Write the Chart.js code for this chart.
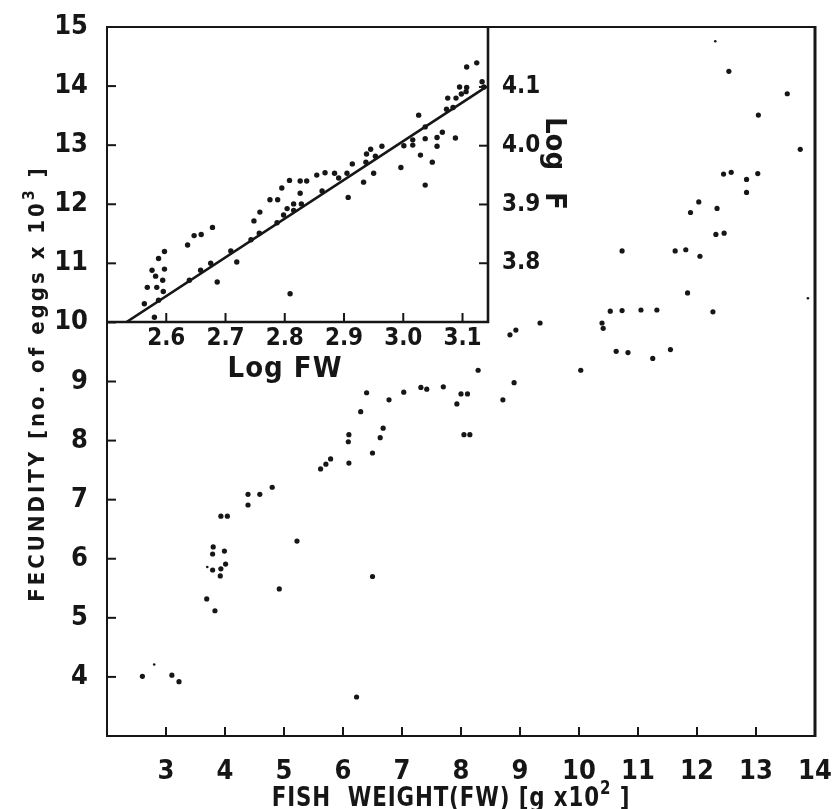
<!DOCTYPE html>
<html>
<head>
<meta charset="utf-8">
<script src="https://cdn.jsdelivr.net/npm/chart.js@4.4.0/dist/chart.umd.min.js"></script>
<style>
  html, body { margin: 0; padding: 0; background: #fff; }
  #wrap { position: relative; width: 840px; height: 809px; }
  #wrap canvas { position: absolute; left: 0; top: 0; }
</style>
</head>
<body>
<div id="wrap">
  <canvas id="mainChart" width="840" height="809"></canvas>
  <canvas id="insetChart" width="840" height="809"></canvas>
</div>
<script>
// Fecundity (x 10^3 eggs) against fish weight (x 10^2 g)
const fishWeight = [12.54, 13.53, 13.04, 13.75, 12.45, 12.58, 12.84, 13.03, 12.84, 12.03,
  11.89, 12.34, 12.32, 12.46, 10.73, 11.63, 11.81, 12.05, 11.84, 10.53,
  10.73, 11.05, 11.32, 12.27, 10.39, 10.41, 9.34, 8.83, 8.93, 10.63,
  10.83, 11.25, 11.55, 8.29, 10.03, 8.90, 8.71, 6.78, 7.03, 7.32,
  7.42, 7.70, 7.93, 8.00, 8.11, 8.05, 8.15, 6.68, 6.63, 6.50,
  6.40, 6.30, 6.10, 6.09, 6.10, 5.79, 5.71, 5.62, 4.80, 4.39,
  4.59, 4.39, 3.93, 4.04, 5.22, 3.80, 3.79, 3.99, 3.79, 3.93,
  4.01, 3.92, 6.50, 4.92, 3.69, 3.83, 2.60, 3.10, 3.22, 6.23];
const fecundity = [14.25, 13.87, 13.51, 12.93, 12.51, 12.54, 12.42, 12.52, 12.20, 12.04,
  11.86, 11.93, 11.49, 11.51, 11.21, 11.21, 11.23, 11.12, 10.50, 10.19,
  10.20, 10.21, 10.21, 10.18, 9.99, 9.90, 9.99, 9.79, 9.87, 9.51,
  9.49, 9.39, 9.54, 9.19, 9.19, 8.98, 8.69, 8.69, 8.82, 8.90,
  8.87, 8.91, 8.62, 8.79, 8.79, 8.10, 8.10, 8.21, 8.05, 7.79,
  8.81, 8.49, 8.10, 7.98, 7.62, 7.69, 7.60, 7.52, 7.21, 7.09,
  7.09, 6.91, 6.72, 6.72, 6.30, 6.20, 6.08, 6.13, 5.81, 5.83,
  5.91, 5.71, 5.70, 5.49, 5.32, 5.12, 4.01, 4.03, 3.92, 3.66];
// faint specks
const faintWeight = [12.31, 13.88, 3.70, 2.80];
const faintFecundity = [14.76, 10.41, 5.86, 4.21];

const weightTicks = [2, 3, 4, 5, 6, 7, 8, 9, 10, 11, 12, 13, 14];
const fecundityTicks = [3, 4, 5, 6, 7, 8, 9, 10, 11, 12, 13, 14, 15];

// Inset: log F against log FW
const logFW = [2.563, 2.580, 2.568, 2.584, 2.595, 2.576, 2.582, 2.594, 2.597, 2.587,
  2.597, 2.587, 2.636, 2.647, 2.659, 2.678, 2.686, 2.719, 2.639, 2.658,
  2.675, 2.709, 2.743, 2.757, 2.748, 2.758, 2.775, 2.788, 2.804, 2.798,
  2.787, 2.809, 2.815, 2.815, 2.795, 2.808, 2.826, 2.837, 2.826, 2.828,
  2.854, 2.868, 2.884, 2.891, 2.905, 2.907, 2.863, 2.914, 2.933, 2.950,
  2.938, 2.945, 2.964, 2.937, 2.953, 2.996, 3.001, 3.016, 3.016, 3.026,
  3.037, 3.037, 3.029, 3.049, 3.037, 3.057, 3.057, 3.066, 3.088, 3.073,
  3.084, 3.075, 3.089, 3.098, 3.106, 3.095, 3.107, 3.124, 3.107, 3.133, 3.136];
const logF = [3.731, 3.708, 3.759, 3.759, 3.752, 3.788, 3.778, 3.771, 3.790, 3.808,
  3.820, 3.737, 3.831, 3.847, 3.849, 3.861, 3.768, 3.802, 3.771, 3.788,
  3.800, 3.821, 3.840, 3.851, 3.872, 3.887, 3.908, 3.908, 3.893, 3.882,
  3.869, 3.748, 3.901, 3.890, 3.928, 3.941, 3.940, 3.940, 3.919, 3.901,
  3.950, 3.954, 3.953, 3.945, 3.953, 3.912, 3.923, 3.969, 3.938, 3.953,
  3.986, 3.994, 3.999, 3.972, 3.982, 3.963, 4.000, 4.001, 4.010, 4.052,
  4.012, 4.032, 3.984, 3.972, 3.933, 4.014, 3.999, 4.023, 4.013, 4.062,
  4.065, 4.081, 4.081, 4.088, 4.092, 4.100, 4.099, 4.141, 4.134, 4.109, 4.100];
// fitted regression line end points
const fitLogFW = [2.533, 3.140];
const fitLogF = [3.700, 4.100];

const logFWTicks = [2.6, 2.7, 2.8, 2.9, 3.0, 3.1];
const logFTicks = [3.8, 3.9, 4.0, 4.1];

const INK = '#161616';
const FAMILY = "'Liberation Sans Narrow', 'DejaVu Sans Condensed', sans-serif";

const toPoints = (xs, ys) => xs.map((x, i) => ({ x: x, y: ys[i] }));
const fixedTicks = list => scale => { scale.ticks = list.map(v => ({ value: v })); };
// pin the axis box to a set size and drop the label overhang margins
const pinBox = (prop, size) => s => {
  s[prop] = size;
  s.paddingLeft = s.paddingRight = s.paddingTop = s.paddingBottom = 0;
};

// draws text made of plain and superscript runs, centred on (0,0) of the current transform
function drawRuns(ctx, runs, size, spacing) {
  const supSize = Math.round(size * 0.72);
  const widths = runs.map(r => {
    ctx.font = `bold ${r.sup ? supSize : size}px ${FAMILY}`;
    ctx.letterSpacing = spacing + 'px';
    return ctx.measureText(r.t).width;
  });
  let x = -widths.reduce((a, b) => a + b, 0) / 2;
  runs.forEach((r, i) => {
    ctx.font = `bold ${r.sup ? supSize : size}px ${FAMILY}`;
    ctx.letterSpacing = spacing + 'px';
    ctx.fillText(r.t, x, r.sup ? -size * 0.45 : 0);
    x += widths[i];
  });
}

// inward tick marks plus the frame sides
function frameTicks(sides, tickLen, skipX) {
  return {
    id: 'frameTicks',
    afterDatasetsDraw(chart) {
      const { ctx, chartArea: a, scales } = chart;
      ctx.save();
      ctx.strokeStyle = INK;
      ctx.lineWidth = 2;
      scales.x.ticks.forEach(t => {
        if (skipX.includes(t.value)) return;
        const px = scales.x.getPixelForValue(t.value);
        ctx.beginPath(); ctx.moveTo(px, a.bottom); ctx.lineTo(px, a.bottom - tickLen); ctx.stroke();
      });
      const onRight = scales.y.position === 'right';
      scales.y.ticks.forEach(t => {
        const py = scales.y.getPixelForValue(t.value);
        const x0 = onRight ? a.right : a.left;
        ctx.beginPath(); ctx.moveTo(x0, py); ctx.lineTo(x0 + (onRight ? -tickLen : tickLen), py); ctx.stroke();
      });
      sides.forEach(s => {
        ctx.lineWidth = s.w;
        ctx.beginPath();
        if (s.side === 'left') { ctx.moveTo(a.left, a.top - 1); ctx.lineTo(a.left, a.bottom + 1); }
        if (s.side === 'right') { ctx.moveTo(a.right, a.top - 1); ctx.lineTo(a.right, a.bottom + 1); }
        if (s.side === 'top') { ctx.moveTo(a.left - 1, a.top); ctx.lineTo(a.right + 1, a.top); }
        if (s.side === 'bottom') { ctx.moveTo(a.left - 1, a.bottom); ctx.lineTo(a.right + 1, a.bottom); }
        ctx.stroke();
      });
      ctx.restore();
    }
  };
}

const mainTitles = {
  id: 'mainTitles',
  afterDraw(chart) {
    const { ctx, chartArea: a } = chart;
    ctx.save();
    ctx.fillStyle = INK;
    ctx.textBaseline = 'alphabetic';
    ctx.textAlign = 'left';
    ctx.translate((a.left + a.right) / 2 - 10, a.bottom + 70);
    ctx.scale(0.88, 1);
    drawRuns(ctx, [{ t: 'FISH  WEIGHT(FW) [g x10' }, { t: '2', sup: true }, { t: ' ]' }], 27, 1);
    ctx.restore();

    ctx.save();
    ctx.fillStyle = INK;
    ctx.textBaseline = 'alphabetic';
    ctx.textAlign = 'left';
    ctx.translate(a.left - 63, (a.top + a.bottom) / 2 + 2);
    ctx.rotate(-Math.PI / 2);
    drawRuns(ctx, [{ t: 'FECUNDITY [no. of eggs x 10' }, { t: '3', sup: true }, { t: ' ]' }], 22, 3);
    ctx.restore();
  }
};

const insetTitles = {
  id: 'insetTitles',
  afterDraw(chart) {
    const { ctx, chartArea: a } = chart;
    ctx.save();
    ctx.fillStyle = INK;
    ctx.textBaseline = 'alphabetic';
    ctx.textAlign = 'left';
    ctx.save();
    ctx.translate(a.left + 178, a.bottom + 55);
    drawRuns(ctx, [{ t: 'Log FW' }], 29, 1);
    ctx.restore();
    ctx.translate(a.right + 58, a.top + 90);
    ctx.rotate(Math.PI / 2);
    ctx.font = `bold 29px ${FAMILY}`;
    ctx.fillText('Log', 0, 0);
    ctx.fillText('F', 75, 0);
    ctx.restore();
  }
};

const tickFont = size => ({ family: FAMILY, size: size, weight: 'bold' });

new Chart(document.getElementById('mainChart'), {
  type: 'scatter',
  data: {
    datasets: [
      { data: toPoints(fishWeight, fecundity), pointRadius: 2.6, backgroundColor: INK, borderWidth: 0 },
      { data: toPoints(faintWeight, faintFecundity), pointRadius: 1.3, backgroundColor: INK, borderWidth: 0 }
    ]
  },
  options: {
    responsive: false,
    animation: false,
    devicePixelRatio: 1,
    layout: { padding: { left: 0, top: 27, right: 25, bottom: 0 } },
    plugins: { legend: { display: false }, tooltip: { enabled: false } },
    scales: {
      x: {
        type: 'linear', min: 2, max: 14,
        afterBuildTicks: fixedTicks(weightTicks),
        afterFit: pinBox('height', 73),
        grid: { display: false, drawTicks: false },
        border: { display: false },
        ticks: { padding: 20, color: INK, font: tickFont(27), maxRotation: 0, autoSkip: false,
                 callback: v => (v === 2 ? '' : String(v)) }
      },
      y: {
        type: 'linear', min: 3, max: 15,
        afterBuildTicks: fixedTicks(fecundityTicks),
        afterFit: pinBox('width', 107),
        grid: { display: false, drawTicks: false },
        border: { display: false },
        ticks: { padding: 19, color: INK, font: tickFont(27), autoSkip: false,
                 callback: v => (v === 3 ? '' : String(v)) }
      }
    }
  },
  plugins: [frameTicks([{ side: 'left', w: 2 }, { side: 'bottom', w: 2 }, { side: 'top', w: 2 }, { side: 'right', w: 3 }], 9, [2, 14]), mainTitles]
});

new Chart(document.getElementById('insetChart'), {
  type: 'scatter',
  data: {
    datasets: [
      { data: toPoints(logFW, logF), pointRadius: 2.7, backgroundColor: INK, borderWidth: 0 },
      { type: 'line', data: toPoints(fitLogFW, fitLogF), borderColor: INK, borderWidth: 2.6,
        pointRadius: 0, fill: false, tension: 0 }
    ]
  },
  options: {
    responsive: false,
    animation: false,
    devicePixelRatio: 1,
    layout: { padding: { left: 107, top: 27, right: 252, bottom: 457 } },
    plugins: { legend: { display: false }, tooltip: { enabled: false } },
    scales: {
      x: {
        type: 'linear', min: 2.5, max: 3.143,
        afterBuildTicks: fixedTicks(logFWTicks),
        afterFit: pinBox('height', 30),
        grid: { display: false, drawTicks: false },
        border: { display: false },
        ticks: { padding: 2, color: INK, font: tickFont(24), maxRotation: 0, autoSkip: false,
                 callback: v => v.toFixed(1) }
      },
      y: {
        type: 'linear', position: 'right', min: 3.7, max: 4.202,
        afterBuildTicks: fixedTicks(logFTicks),
        afterFit: pinBox('width', 100),
        grid: { display: false, drawTicks: false },
        border: { display: false },
        ticks: { padding: 14, color: INK, font: tickFont(24), autoSkip: false,
                 callback: v => v.toFixed(1) }
      }
    }
  },
  plugins: [frameTicks([{ side: 'right', w: 2.6 }, { side: 'bottom', w: 2.6 }], 9, []), insetTitles]
});
</script>
</body>
</html>
